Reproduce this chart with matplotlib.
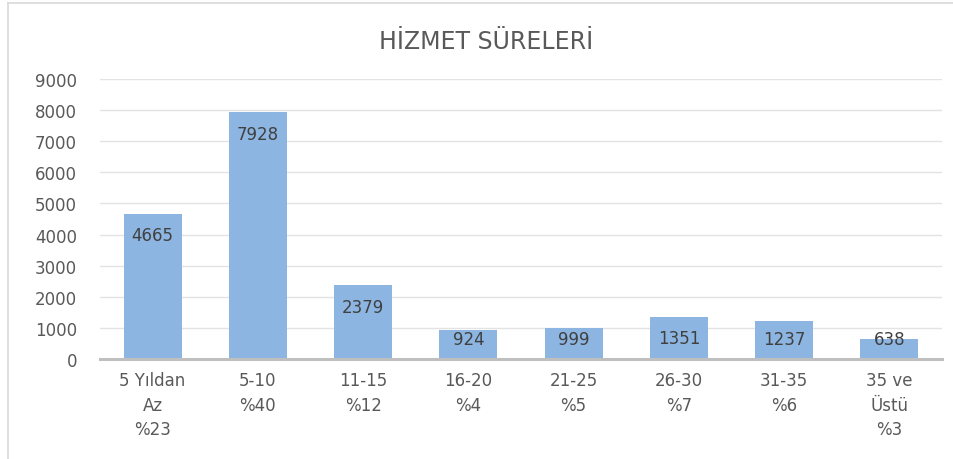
import matplotlib.pyplot as plt
from matplotlib.lines import Line2D

plt.rcParams['font.family'] = ['DejaVu Sans']

# data
categories = ["5 Yıldan\nAz\n%23", "5-10\n%40", "11-15\n%12", "16-20\n%4",
              "21-25\n%5", "26-30\n%7", "31-35\n%6", "35 ve\nÜstü\n%3"]
counts = [4665, 7928, 2379, 924, 999, 1351, 1237, 638]
yticks = list(range(0, 9001, 1000))

fig = plt.figure(figsize=(9.54, 4.6), dpi=100)
ax = fig.add_axes([100 / 954, 100 / 460, 842 / 954, 280 / 460])

x = range(len(categories))
bars = ax.bar(x, counts, width=0.55, color="#8DB5E1", zorder=2)

# labels sit inside the bar end, but never lower than a fixed height above the axis
for b, v in zip(bars, counts):
    ax.annotate(str(v), (b.get_x() + b.get_width() / 2, max(v, 1350)),
                xytext=(0, -15.5), textcoords="offset points",
                ha="center", va="center", fontsize=12, color="#404040")

ax.set_xlim(-0.5, len(categories) - 0.5)
ax.set_ylim(0, 9000)
ax.set_yticks(yticks)
ax.set_xticks(list(x))
ax.set_xticklabels(categories, fontsize=12, color="#595959", linespacing=1.45)
ax.tick_params(axis="y", labelsize=12, labelcolor="#595959", length=0, pad=16.5)
ax.tick_params(axis="x", length=0, pad=9)
ax.grid(axis="y", color="#E3E3E3", linewidth=1, zorder=0)

for s in ["top", "right", "left"]:
    ax.spines[s].set_visible(False)
ax.spines["bottom"].set_color("#BFBFBF")
ax.spines["bottom"].set_linewidth(2.2)
ax.spines["bottom"].set_zorder(3)

fig.text(486 / 954, 1 - 42 / 460, "HİZMET SÜRELERİ", ha="center", va="center",
         fontsize=17, color="#595959")

# chart frame (only left and top edges are visible in the original crop)
fig.add_artist(Line2D([8 / 954, 8 / 954], [0, 1 - 4 / 460], transform=fig.transFigure,
                      color="#D9D9D9", linewidth=1.2))
fig.add_artist(Line2D([8 / 954, 1], [1 - 4 / 460, 1 - 4 / 460], transform=fig.transFigure,
                      color="#D9D9D9", linewidth=1.2))

fig.savefig("out.png", dpi=100)
